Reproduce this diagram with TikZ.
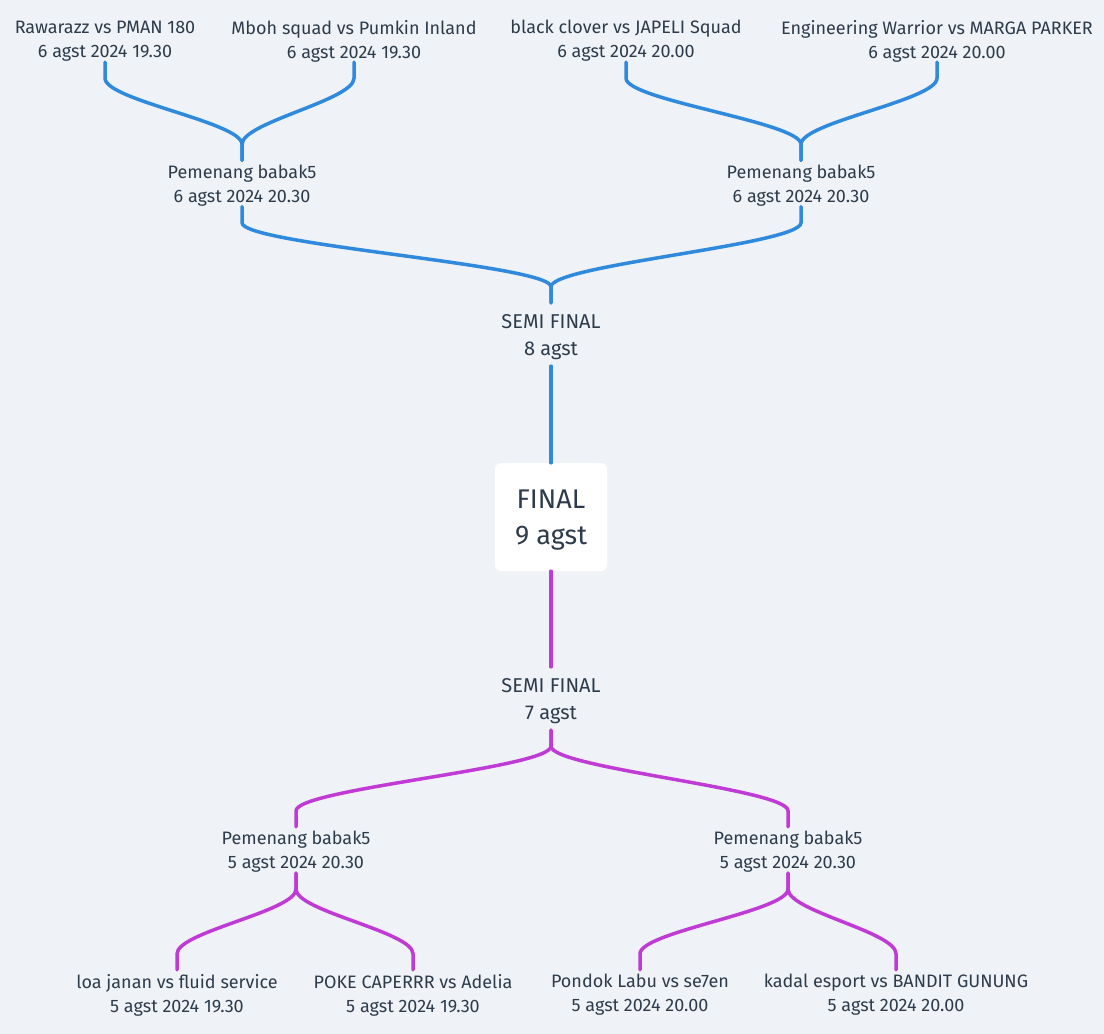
\documentclass[tikz,border=0pt]{standalone}
\usepackage{fontspec}
\setmainfont{Fira Sans}
\usetikzlibrary{calc}

\definecolor{bg}{HTML}{EFF3F7}
\definecolor{ink}{HTML}{2E3B4A}
\definecolor{topblue}{HTML}{2F89DD}
\definecolor{botpurple}{HTML}{C03AD6}

\begin{document}
\begin{tikzpicture}[
  x=1pt, y=-1pt,
  team/.style={align=center, inner sep=0pt, minimum height=46pt, text depth=-1.4pt, text=ink, font=\fontsize{18}{24}\selectfont},
  semi/.style={align=center, inner sep=0pt, minimum height=63pt, text depth=-3pt, text=ink, font=\fontsize{20}{27}\selectfont},
  finalbox/.style={fill=white, rounded corners=6pt, minimum width=112pt, minimum height=108pt, inner sep=0pt, text depth=-1.6pt, align=center, text=ink, font=\fontsize{27}{36}\selectfont},
  wire/.style={line width=3.5pt, line cap=round,
    to path={-- ++(0,16) .. controls +(0,22) and ($(\tikztotarget)+(0,-38)$) .. ($(\tikztotarget)+(0,-16)$) -- (\tikztotarget)}},
  bluewire/.style={wire, draw=topblue},
  purplewire/.style={wire, draw=botpurple}
]
\fill[bg] (0,0) rectangle (1104,1034);
\useasboundingbox (0,0) rectangle (1104,1034);

% 6 agst bracket (top)
\node[team] (t1) at (105,39) {Rawarazz vs PMAN 180\\6 agst 2024 19.30};
\node[team] (t2) at (354,39) {Mboh squad vs Pumkin Inland\\6 agst 2024 19.30};
\node[team] (t3) at (626,39) {black clover vs JAPELI Squad\\6 agst 2024 20.00};
\node[team] (t4) at (937,39) {Engineering Warrior vs MARGA PARKER\\6 agst 2024 20.00};
\node[team] (w1) at (242,183.5) {Pemenang babak5\\6 agst 2024 20.30};
\node[team] (w2) at (801,183.5) {Pemenang babak5\\6 agst 2024 20.30};
\node[semi] (s1) at (551,334.5) {SEMI FINAL\\8 agst};

% final
\node[finalbox] (fin) at (551,517) {FINAL\\9 agst};

% 5 agst bracket (bottom)
\node[semi] (s2) at (551,698.5) {SEMI FINAL\\7 agst};
\node[team] (w3) at (296,850) {Pemenang babak5\\5 agst 2024 20.30};
\node[team] (w4) at (788,850) {Pemenang babak5\\5 agst 2024 20.30};
\node[team] (b1) at (177,993) {loa janan vs fluid service\\5 agst 2024 19.30};
\node[team] (b2) at (413,993) {POKE CAPERRR vs Adelia\\5 agst 2024 19.30};
\node[team] (b3) at (640,993) {Pondok Labu vs se7en\\5 agst 2024 20.00};
\node[team] (b4) at (896,993) {kadal esport vs BANDIT GUNUNG\\5 agst 2024 20.00};

% top connectors
\draw[bluewire] (t1.south) to (w1.north);
\draw[bluewire] (t2.south) to (w1.north);
\draw[bluewire] (t3.south) to (w2.north);
\draw[bluewire] (t4.south) to (w2.north);
\draw[bluewire] (w1.south) to (s1.north);
\draw[bluewire] (w2.south) to (s1.north);
\draw[topblue, line width=3.5pt, line cap=round] (s1.south) -- (fin.north);

% bottom connectors
\draw[botpurple, line width=3.5pt, line cap=round] (fin.south) -- (s2.north);
\draw[purplewire] (s2.south) to (w3.north);
\draw[purplewire] (s2.south) to (w4.north);
\draw[purplewire] (w3.south) to (b1.north);
\draw[purplewire] (w3.south) to (b2.north);
\draw[purplewire] (w4.south) to (b3.north);
\draw[purplewire] (w4.south) to (b4.north);

\end{tikzpicture}
\end{document}
